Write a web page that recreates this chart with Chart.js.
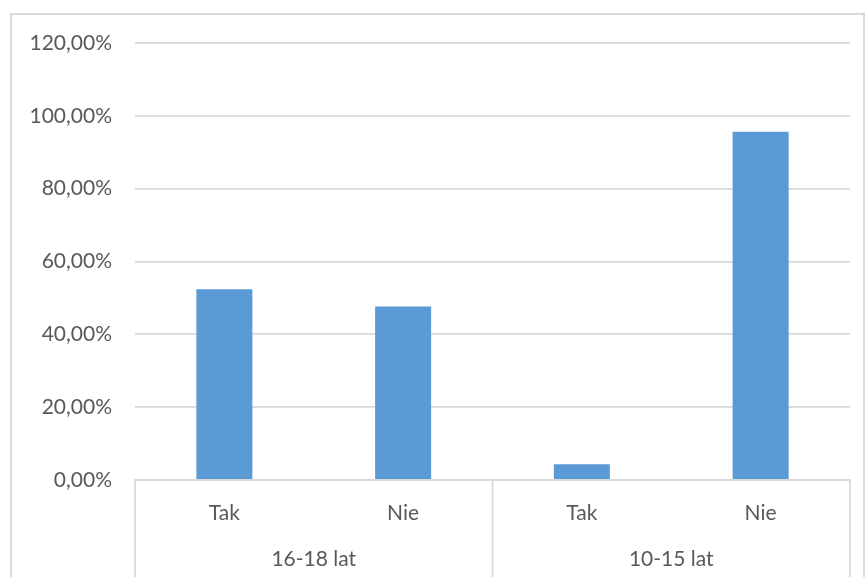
<!DOCTYPE html>
<html>
<head>
<meta charset="utf-8">
<script src="https://cdn.jsdelivr.net/npm/chart.js@4.4.1/dist/chart.umd.min.js"></script>
<style>
html, body { margin: 0; padding: 0; background: #fff; overflow: hidden; }
#frame { position: absolute; left: 10px; top: 13px; width: 855px; height: 620px; border: 2px solid #d9d9d9; box-sizing: border-box; }
#wrap { position: absolute; left: 0; top: 0; width: 866px; height: 577px; }
</style>
</head>
<body>
<div id="frame"></div>
<div id="wrap"><canvas id="c" width="866" height="577"></canvas></div>
<script>
// data
const groups = ["16-18 lat", "10-15 lat"];
const answers = ["Tak", "Nie", "Tak", "Nie"];
const shares = [52.38, 47.62, 4.35, 95.65];
const yMax = 120;
const yStep = 20;

const barColor = "#5b9bd5";
const lineColor = "#d9d9d9";
const textColor = "#595959";
const font = { family: "Lato, 'Open Sans', sans-serif", size: 21 };

// group separators below the axis (Excel style multi-level labels)
const groupLines = {
	id: "groupLines",
	afterDraw(chart) {
		const xs = chart.scales.x;
		const area = chart.chartArea;
		const per = answers.length / groups.length;
		const pos = [area.left];
		for (let g = 1; g < groups.length; g++) {
			pos.push((xs.getPixelForValue(g * per - 1) + xs.getPixelForValue(g * per)) / 2);
		}
		pos.push(area.right);
		const ctx = chart.ctx;
		ctx.save();
		ctx.strokeStyle = lineColor;
		ctx.lineWidth = 1.8;
		pos.forEach(p => {
			ctx.beginPath();
			ctx.moveTo(p, area.bottom);
			ctx.lineTo(p, chart.height);
			ctx.stroke();
		});
		ctx.restore();
	}
};

new Chart(document.getElementById("c"), {
	type: "bar",
	data: {
		labels: answers,
		datasets: [{
			data: shares,
			backgroundColor: barColor,
			borderWidth: 0,
			barPercentage: 0.3135,
			categoryPercentage: 1
		}]
	},
	options: {
		responsive: false,
		animation: false,
		devicePixelRatio: 1,
		layout: { padding: { left: 0, top: 43, right: 16, bottom: 0 } },
		plugins: { legend: { display: false }, tooltip: { enabled: false } },
		scales: {
			x: {
				position: "bottom",
				grid: { display: false, drawTicks: false },
				border: { display: true, color: lineColor, width: 1.8 },
				ticks: { color: textColor, font: font, padding: 21, maxRotation: 0, autoSkip: false },
				afterFit(s) { s.height = 45; }
			},
			x2: {
				type: "category",
				position: "bottom",
				labels: groups,
				offset: true,
				grid: { display: false, drawTicks: false },
				border: { display: false },
				ticks: { color: textColor, font: font, padding: 22, maxRotation: 0, autoSkip: false },
				afterFit(s) { s.height = 52; }
			},
			y: {
				min: 0,
				max: yMax,
				grid: { color: lineColor, lineWidth: 1.8, drawTicks: false },
				border: { display: false },
				ticks: {
					stepSize: yStep,
					color: textColor,
					font: font,
					padding: 23,
					callback: v => v.toFixed(2).replace(".", ",") + "%"
				},
				afterFit(s) { s.width = 135; }
			}
		}
	},
	plugins: [groupLines]
});
</script>
</body>
</html>
